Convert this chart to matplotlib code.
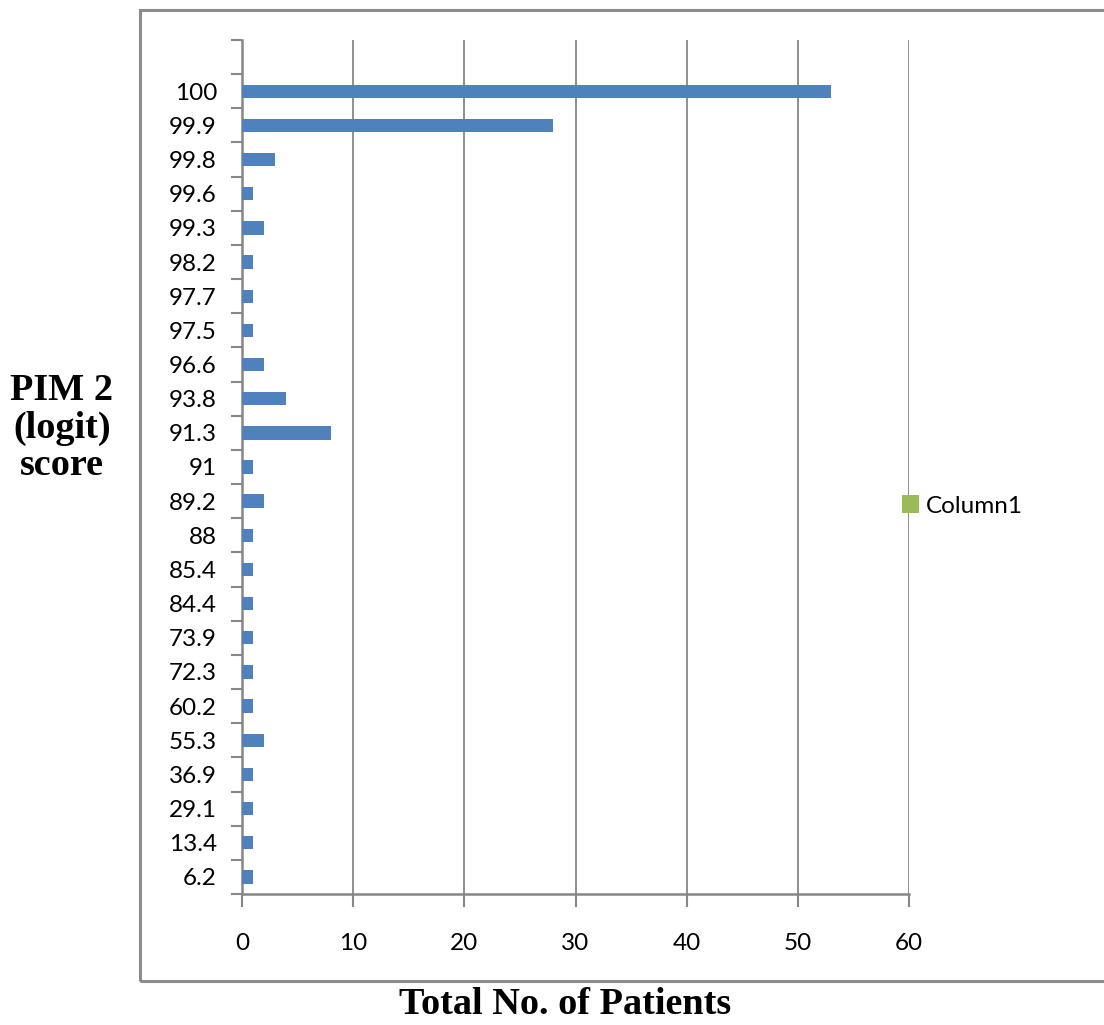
import numpy as np
import matplotlib
matplotlib.use("Agg")
import matplotlib.pyplot as plt
from matplotlib.patches import Rectangle, Patch

# PIM 2 (logit) score categories, bottom to top
scores = ["6.2", "13.4", "29.1", "36.9", "55.3", "60.2", "72.3", "73.9", "84.4",
          "85.4", "88", "89.2", "91", "91.3", "93.8", "96.6", "97.5", "97.7",
          "98.2", "99.3", "99.6", "99.8", "99.9", "100"]
patients = [1, 1, 1, 1, 2, 1, 1, 1, 1,
            1, 1, 2, 1, 8, 4, 2, 1, 1,
            1, 2, 1, 3, 28, 53]
xticks = [0, 10, 20, 30, 40, 50, 60]

bar_color = "#4F81BD"
grid_color = "#878787"

W, H = 1104, 1025
fig = plt.figure(figsize=(W / 100, H / 100), dpi=100)
ax = fig.add_axes([242 / W, 1 - 894 / H, (909 - 242) / W, (894 - 40) / H])

y = np.arange(len(scores))
ax.barh(y, patients, height=0.39, color=bar_color, zorder=3)

ax.set_xlim(0, 60)
ax.set_ylim(-0.5, len(scores) + 0.5)  # one empty slot on top

ax.set_xticks(xticks)
ax.set_xticklabels([str(t) for t in xticks])
ax.set_yticks(y)
ax.set_yticklabels(scores)
ax.set_yticks(np.arange(-0.5, len(scores) + 1), minor=True)

ax.tick_params(axis="y", which="major", length=0, pad=18)
ax.tick_params(axis="y", which="minor", length=8, width=1.5, color=grid_color, direction="out")
ax.tick_params(axis="x", which="major", length=9, width=1.5, color=grid_color, direction="out", pad=19)
for lab in ax.get_xticklabels() + ax.get_yticklabels():
    lab.set_fontfamily("Lato")
    lab.set_fontsize(17.5)

ax.grid(axis="x", color=grid_color, linewidth=1.3, zorder=0)
ax.set_axisbelow(True)
for s in ["top", "right"]:
    ax.spines[s].set_visible(False)
for s in ["left", "bottom"]:
    ax.spines[s].set_color(grid_color)
    ax.spines[s].set_linewidth(1.8)

# outer chart frame
frame = Rectangle((140 / W, 1 - 981 / H), 1.0, (981 - 10) / H, transform=fig.transFigure,
                  fill=False, edgecolor="#8c8c8c", linewidth=2.2, clip_on=False)
fig.patches.append(frame)

# legend
leg = fig.legend(handles=[Patch(facecolor="#9BBB59", edgecolor="none", label="Column1")],
                 loc="center left", bbox_to_anchor=(880 / W, 1 - 506 / H), frameon=False,
                 handlelength=0.7, handleheight=0.7, handletextpad=0.3,
                 prop={"family": "Lato", "size": 17.5})

fig.text(62 / W, 1 - 428 / H, "PIM 2\n(logit)\nscore", ha="center", va="center",
         family="Liberation Serif", weight="bold", fontsize=27.5, linespacing=1.1)
fig.text(565 / W, 1 - 1005 / H, "Total No. of Patients", ha="center", va="center",
         family="Liberation Serif", weight="bold", fontsize=27.5)

fig.savefig("out.png", dpi=100)
